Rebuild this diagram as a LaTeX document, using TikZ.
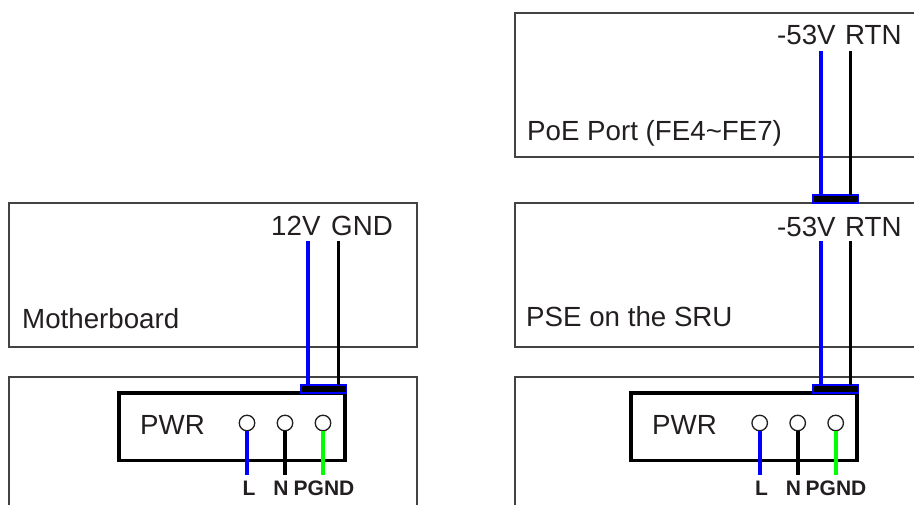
\documentclass[tikz,border=0pt]{standalone}
\usepackage{fontspec}
\setmainfont{Liberation Sans}
\definecolor{ink}{HTML}{231F20}
\definecolor{wblue}{HTML}{0000FF}
\definecolor{wgreen}{HTML}{00FF00}
\tikzset{
 board/.style={draw=ink!85,line width=1.3pt,rectangle,anchor=north west,inner sep=0pt,outer sep=0pt},
 pwrbox/.style={draw=black,line width=3.8pt,rectangle,anchor=north west,inner sep=0pt,outer sep=0pt,minimum width=226pt,minimum height=67.5pt},
 plug/.style={draw=wblue,fill=black,line width=1.4pt,rectangle,anchor=north west,inner sep=0pt,outer sep=0pt,minimum width=45.5pt,minimum height=8pt},
 pin/.style={draw=ink,fill=white,line width=1.3pt,circle,inner sep=0pt,outer sep=0pt,minimum size=15.5pt},
 lbl/.style={text=ink,font=\fontsize{27.7}{27.7}\selectfont,anchor=base west,inner sep=0pt},
 pinlbl/.style={text=ink,font=\fontsize{21}{21}\selectfont\bfseries,anchor=base,inner sep=0pt},
 bluewire/.style={draw=wblue,line width=4pt},
 blackwire/.style={draw=black,line width=3.8pt},
 greenwire/.style={draw=wgreen,line width=4pt},
}
\begin{document}
\begin{tikzpicture}[x=1pt,y=-1pt]
\useasboundingbox (0,0) rectangle (914,505);
\clip (0,0) rectangle (914,505);
% boards
\node[board,minimum width=408pt,minimum height=144pt] (mb) at (9,203) {};
\node[board,minimum width=408pt,minimum height=160pt] (pl) at (9,377) {};
\node[board,minimum width=420pt,minimum height=144pt] (poe) at (515,13) {};
\node[board,minimum width=420pt,minimum height=144pt] (pse) at (515,203) {};
\node[board,minimum width=420pt,minimum height=160pt] (pr) at (515,377) {};
% power boxes
\node[pwrbox] (bl) at (119,393) {};
\node[pwrbox] (br) at (631,393) {};
% plugs
\node[plug] (pgl) at (301,385) {};
\node[plug] (pgr) at (813,385) {};
\node[plug] (pgt) at (813,195) {};
% pins
\foreach \n/\x in {la/247,lb/285,lc/323,ra/759.7,rb/797.7,rc/835.7}{
  \node[pin] (\n) at (\x,423) {};
}
% wire ends
\coordinate (w1) at (308,241); \coordinate (w2) at (338.5,241);
\coordinate (w3) at (820.5,241); \coordinate (w4) at (850.5,241);
\coordinate (w5) at (820.5,51); \coordinate (w6) at (850.5,51);
\foreach \n/\x in {ea/247,eb/285,ec/323,fa/759.7,fb/797.7,fc/835.7}{
  \coordinate (\n) at (\x,475);
}
% wires
\draw[bluewire] (w1) -- (w1 |- pgl.north);
\draw[blackwire] (w2) -- (w2 |- pgl.north);
\draw[bluewire] (w3) -- (w3 |- pgr.north);
\draw[blackwire] (w4) -- (w4 |- pgr.north);
\draw[bluewire] (w5) -- (w5 |- pgt.north);
\draw[blackwire] (w6) -- (w6 |- pgt.north);
\draw[bluewire] (la.south) -- (ea);
\draw[blackwire] (lb.south) -- (eb);
\draw[greenwire] (lc.south) -- (ec);
\draw[bluewire] (ra.south) -- (fa);
\draw[blackwire] (rb.south) -- (fb);
\draw[greenwire] (rc.south) -- (fc);
% labels
\node[lbl] (t1) at (271,236) {12V};
\node[lbl] (t2) at (331,236) {GND};
\node[lbl] (t3) at (22,329) {Motherboard};
\node[lbl] (t4) at (777,45) {-53V};
\node[lbl] (t5) at (845,45) {RTN};
\node[lbl] (t6) at (527,141) {PoE Port (FE4\textasciitilde FE7)};
\node[lbl] (t7) at (777,236.5) {-53V};
\node[lbl] (t8) at (845,236.5) {RTN};
\node[lbl] (t9) at (526,327) {PSE on the SRU};
\node[lbl] (t10) at (140,435) {PWR};
\node[lbl] (t11) at (652,435) {PWR};
\node[pinlbl] (l1) at (249,495) {L};
\node[pinlbl] (l2) at (281,495) {N};
\node[pinlbl] (l3) at (324,495) {PGND};
\node[pinlbl] (l4) at (761.5,495) {L};
\node[pinlbl] (l5) at (793.5,495) {N};
\node[pinlbl] (l6) at (836,495) {PGND};
\end{tikzpicture}
\end{document}
